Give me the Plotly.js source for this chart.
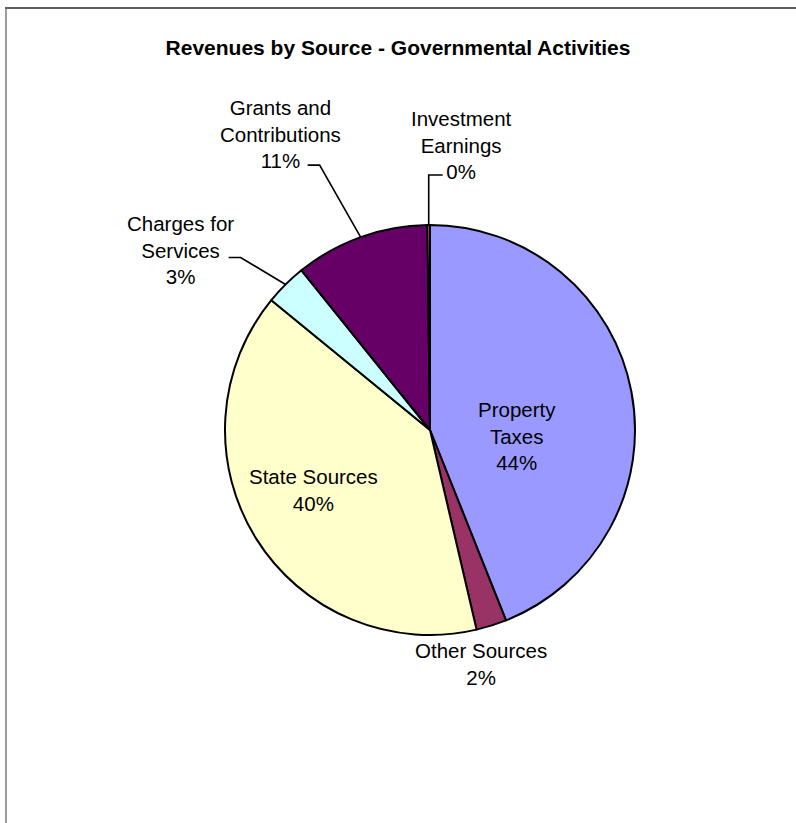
<!DOCTYPE html>
<html>
<head>
<meta charset="utf-8">
<script src="https://cdn.plot.ly/plotly-3.0.1.min.js"></script>
<style>
  html, body { margin: 0; padding: 0; background: #ffffff; }
  #wrap { position: relative; width: 796px; height: 823px; overflow: hidden; }
  #chart { position: absolute; left: 0; top: 0; width: 796px; height: 823px; }
  #frameL { position: absolute; left: 5px; top: 7px; width: 2px; height: 830px; background: #9c9c9c; pointer-events: none; }
  #frameT { position: absolute; left: 5px; top: 7px; width: 800px; height: 2px; background: #5e5e5e; pointer-events: none; }
</style>
</head>
<body>
<div id="wrap">
  <div id="chart"></div>
  <div id="frameL"></div>
  <div id="frameT"></div>
</div>
<script>
// ---- data (percent share of governmental revenues) ----
const categories = ["Property Taxes", "Other Sources", "State Sources", "Charges for Services", "Grants and Contributions", "Investment Earnings"];
const labelLines = [["Property", "Taxes"], ["Other Sources"], ["State Sources"], ["Charges for", "Services"], ["Grants and", "Contributions"], ["Investment", "Earnings"]];
const values = [44.0, 2.4, 39.6, 3.3, 10.6, 0.2];
const colors = ["#9999FF", "#993366", "#FFFFCC", "#CCFFFF", "#660066", "#FF8080"];

// ---- geometry / style ----
const W = 796, H = 823;
const PIE = { cx: 430, cy: 430, r: 205 };
const FONT = 'Arial, "Liberation Sans", sans-serif';

// label placement styles (relative to slice geometry)
const placement = [
  { kind: "inside", rf: 0.43, dx: 0, dy: 23 },
  { kind: "outside", dx: -10, dy: 38 },
  { kind: "inside", rf: 0.67, dx: 0, dy: -13 },
  { kind: "leader", dx: -105, dy: -34, path: [[-45, -27], [-57, -27]] },
  { kind: "leader", dx: -80, dy: -103, path: [[-41, -72], [-53, -72]] },
  { kind: "leader", dx: 33, dy: -80, path: [[0, -50], [14, -50]] }
];

const total = values.reduce((a, b) => a + b, 0);
const px = x => x / W;
const py = y => 1 - y / H;

const annotations = [];
const shapes = [];
let acc = 0;
values.forEach((v, i) => {
  const a0 = acc / total * 2 * Math.PI;
  acc += v;
  const a1 = acc / total * 2 * Math.PI;
  const mid = (a0 + a1) / 2;
  const s = Math.sin(mid), c = Math.cos(mid);
  const p = placement[i];
  const pct = Math.round(v / total * 100) + "%";
  const text = labelLines[i].concat([pct]).join("<br>");
  let tx, ty;
  const ex = PIE.cx + PIE.r * s, ey = PIE.cy - PIE.r * c;
  if (p.kind === "inside") {
    tx = PIE.cx + PIE.r * p.rf * s + p.dx;
    ty = PIE.cy - PIE.r * p.rf * c + p.dy;
  } else {
    tx = ex + p.dx;
    ty = ey + p.dy;
  }
  if (p.kind === "leader") {
    let d = "M" + px(ex) + "," + py(ey);
    p.path.forEach(q => { d += " L" + px(ex + q[0]) + "," + py(ey + q[1]); });
    shapes.push({ type: "path", xref: "paper", yref: "paper", path: d, line: { color: "#000000", width: 1.6 } });
  }
  annotations.push({
    x: px(tx), y: py(ty), xref: "paper", yref: "paper",
    xanchor: "center", yanchor: "middle", align: "center",
    text: text, showarrow: false,
    font: { family: FONT, size: 20.5, color: "#000000" }
  });
});

const trace = {
  type: "pie",
  labels: categories,
  values: values,
  sort: false,
  direction: "clockwise",
  rotation: 0,
  textinfo: "none",
  hoverinfo: "label+percent",
  marker: { colors: colors, line: { color: "#000000", width: 2 } },
  domain: {
    x: [px(PIE.cx - PIE.r), px(PIE.cx + PIE.r)],
    y: [py(PIE.cy + PIE.r), py(PIE.cy - PIE.r)]
  },
  showlegend: false
};

const layout = {
  width: W, height: H,
  margin: { l: 0, r: 0, t: 0, b: 0 },
  paper_bgcolor: "#ffffff",
  plot_bgcolor: "#ffffff",
  showlegend: false,
  title: {
    text: "<b>Revenues by Source - Governmental Activities</b>",
    font: { family: FONT, size: 21, color: "#000000" },
    x: 0.5, xref: "paper", xanchor: "center",
    y: 1 - 48 / H, yref: "container", yanchor: "middle"
  },
  annotations: annotations,
  shapes: shapes
};

Plotly.newPlot("chart", [trace], layout, { displayModeBar: false, staticPlot: true });
</script>
</body>
</html>
